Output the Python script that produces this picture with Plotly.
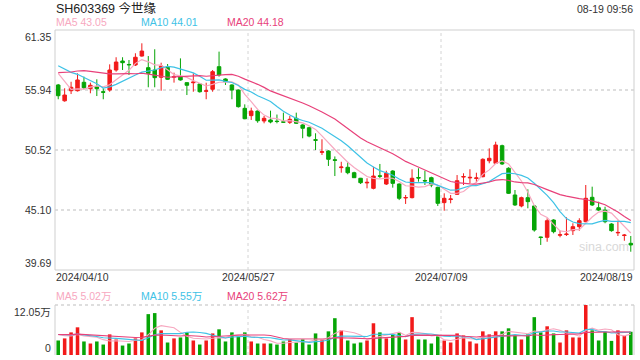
import plotly.graph_objects as go
import pandas as pd
import numpy as np

# ---------------- text ----------------
title_text = "SH603369 今世缘"
time_text = "08-19 09:56"
ma_price_labels = ["MA5 43.05", "MA10 44.01", "MA20 44.18"]
ma_vol_labels = ["MA5 5.02万", "MA10 5.55万", "MA20 5.62万"]
price_tick_labels = ["61.35", "55.94", "50.52", "45.10", "39.69"]
vol_tick_labels = ["12.05万", "0"]
x_tick_labels = ["2024/04/10", "2024/05/27", "2024/07/09", "2024/08/19"]
watermark = "sina.com"

# ---------------- trading days ----------------
holidays = ["2024-05-01", "2024-05-02", "2024-05-03", "2024-06-10"]
dates = [d for d in pd.bdate_range("2024-04-10", "2024-08-19") if d.strftime("%Y-%m-%d") not in holidays]

# ---------------- daily OHLC (yuan) ----------------
opens = [56.39, 54.96, 55.87, 55.87, 56.63, 56.05, 56.23, 55.78, 55.93, 57.74,
         58.55, 58.24, 58.19, 59.00, 57.95, 57.74, 57.08, 57.98, 57.09, 57.14,
         56.60, 56.59, 56.48, 55.82, 56.00, 58.04, 56.93, 56.39, 55.93, 54.28,
         53.62, 54.04, 53.14, 53.23, 53.12, 53.06, 53.02, 53.38, 52.78, 52.53,
         51.45, 50.31, 50.43, 49.64, 48.93, 48.96, 48.47, 47.97, 47.55, 47.06,
         48.19, 47.45, 48.62, 47.45, 46.19, 46.22, 48.04, 47.77, 48.02, 47.15,
         45.77, 46.05, 46.52, 48.08, 48.00, 47.95, 48.11, 49.55, 49.32, 50.91,
         48.87, 46.46, 45.47, 46.22, 45.47, 42.67, 42.64, 44.20, 42.83, 42.89,
         43.24, 43.60, 44.05, 46.25, 45.31, 45.10, 43.84, 43.04, 42.80, 42.10]
highs = [56.48, 56.09, 56.68, 57.44, 57.14, 56.60, 56.90, 56.09, 58.25, 58.89,
         58.89, 58.64, 59.25, 60.15, 59.00, 59.61, 58.40, 58.28, 57.50, 58.79,
         56.60, 57.44, 56.55, 56.59, 57.74, 59.40, 56.99, 56.45, 55.99, 54.64,
         54.34, 54.08, 53.59, 54.07, 53.72, 53.89, 53.59, 53.89, 52.85, 52.62,
         52.03, 51.49, 50.50, 49.94, 49.46, 49.46, 48.56, 48.00, 47.97, 49.01,
         49.26, 48.65, 48.70, 47.50, 46.46, 48.78, 48.87, 48.65, 48.11, 47.21,
         46.61, 46.46, 48.26, 48.42, 48.78, 48.47, 49.77, 50.67, 51.27, 51.00,
         48.96, 46.91, 46.31, 46.97, 45.50, 42.70, 44.36, 44.27, 43.24, 44.45,
         43.91, 44.36, 47.36, 47.21, 45.85, 45.40, 43.91, 44.14, 42.94, 42.76]
lows = [55.10, 54.88, 55.57, 55.80, 55.99, 55.64, 55.39, 55.10, 55.78, 57.59,
        57.74, 57.29, 58.10, 58.94, 56.18, 56.18, 55.87, 56.84, 56.60, 56.78,
        55.48, 55.78, 55.70, 55.10, 55.78, 57.14, 56.39, 55.10, 54.35, 53.30,
        53.23, 52.98, 52.93, 52.93, 52.93, 52.98, 52.87, 52.87, 51.58, 51.67,
        50.52, 50.07, 49.08, 48.17, 48.47, 48.33, 48.00, 47.45, 47.06, 46.97,
        47.97, 47.36, 47.12, 46.00, 45.65, 46.15, 47.66, 47.36, 47.16, 45.47,
        45.04, 45.71, 46.46, 47.36, 47.51, 47.57, 48.05, 49.32, 49.26, 49.17,
        46.55, 45.47, 45.35, 45.26, 43.15, 41.95, 42.24, 43.00, 42.64, 42.76,
        42.85, 43.24, 44.00, 45.47, 45.02, 43.91, 43.15, 42.76, 42.33, 41.34]
closes = [55.42, 55.48, 56.18, 56.84, 56.14, 56.36, 56.05, 55.73, 57.74, 58.46,
          58.40, 58.21, 58.89, 59.45, 57.44, 57.05, 58.10, 56.90, 57.15, 56.84,
          56.36, 56.65, 55.78, 55.86, 57.59, 57.29, 56.69, 55.93, 54.43, 53.34,
          54.04, 53.16, 53.38, 53.05, 53.09, 53.03, 53.29, 52.93, 52.48, 51.78,
          51.40, 50.36, 49.68, 49.59, 48.98, 48.47, 48.02, 47.57, 47.60, 48.17,
          48.15, 48.42, 47.51, 46.16, 46.23, 47.97, 47.99, 47.73, 47.36, 45.71,
          46.16, 46.10, 47.75, 48.12, 48.05, 48.00, 49.68, 49.77, 50.97, 49.26,
          46.61, 45.56, 46.22, 45.86, 43.30, 42.62, 44.14, 43.15, 42.87, 42.93,
          43.60, 44.14, 46.16, 45.56, 45.10, 44.05, 43.24, 43.08, 42.84, 41.95]
# closes of the 19 sessions before the window (only used by the moving averages)
hist_closes = [55.2, 55.5, 55.0, 55.6, 57.5, 58.0, 57.8, 58.4, 58.2, 57.7,
               58.5, 59.2, 58.6, 59.0, 58.8, 59.3, 59.6, 56.6, 56.27]

# ---------------- volume (万手) ----------------
volumes = [3.50, 4.00, 5.45, 6.67, 3.26, 2.77, 3.26, 2.52, 4.97, 3.74,
           2.28, 2.77, 4.00, 5.45, 9.85, 10.10, 5.94, 3.01, 4.00, 4.23,
           5.45, 3.50, 2.52, 3.50, 5.20, 6.19, 3.26, 5.45, 4.48, 5.45,
           3.26, 2.77, 2.77, 2.77, 2.52, 3.26, 3.74, 3.01, 3.74, 2.52,
           5.20, 3.74, 5.70, 8.87, 5.94, 3.50, 2.77, 3.01, 3.50, 7.65,
           5.45, 4.00, 4.97, 5.45, 3.74, 9.12, 3.74, 3.74, 2.77, 4.48,
           3.50, 3.01, 5.20, 4.72, 3.26, 2.77, 5.70, 4.97, 5.70, 5.70,
           6.43, 4.72, 3.74, 4.97, 9.12, 5.45, 6.92, 5.20, 3.01, 5.94,
           4.23, 4.23, 12.05, 5.94, 3.50, 5.60, 3.40, 5.94, 4.60, 5.60]
hist_volumes = [4.8, 5.3, 4.6, 5.1, 4.9, 5.5, 4.7, 5.0, 5.2, 4.6,
                4.9, 5.4, 4.8, 5.0, 4.7, 5.3, 5.6, 4.9, 5.2]

price_min, price_max = 39.69, 61.35
vol_max = 12.05

# ---------------- styling ----------------
RED = "#f21a1a"
GREEN = "#06a506"
MA_COLORS = ["#f7a8c0", "#3ec2e6", "#e8417a"]
FONT = "Liberation Sans, Arial, Noto Sans CJK SC, sans-serif"
TXT = "#333333"

n = len(closes)
idx = list(range(n))


def moving_avg(hist, vals, w):
    full = np.array(hist + vals, dtype=float)
    off = len(hist)
    return [full[off + i - w + 1: off + i + 1].mean() for i in range(len(vals))]


fig = go.Figure()

# price MAs
for w, col in zip([5, 10, 20], MA_COLORS):
    fig.add_trace(go.Scatter(x=idx, y=moving_avg(hist_closes, closes, w), mode="lines",
                             line=dict(color=col, width=1.2), hoverinfo="skip",
                             showlegend=False, xaxis="x", yaxis="y"))

fig.add_trace(go.Candlestick(
    x=idx, open=opens, high=highs, low=lows, close=closes,
    increasing=dict(line=dict(color=RED, width=1), fillcolor=RED),
    decreasing=dict(line=dict(color=GREEN, width=1), fillcolor=GREEN),
    whiskerwidth=0, showlegend=False, hoverinfo="skip", xaxis="x", yaxis="y"))

vol_colors = [RED if c >= o else GREEN for o, c in zip(opens, closes)]
fig.add_trace(go.Bar(x=idx, y=volumes, marker=dict(color=vol_colors, line=dict(width=0)),
                     width=0.55, showlegend=False, hoverinfo="skip", xaxis="x2", yaxis="y2"))
for w, col in zip([5, 10, 20], MA_COLORS):
    fig.add_trace(go.Scatter(x=idx, y=moving_avg(hist_volumes, volumes, w), mode="lines",
                             line=dict(color=col, width=1.1), hoverinfo="skip",
                             showlegend=False, xaxis="x2", yaxis="y2"))

# ---------------- layout geometry ----------------
W, H = 640, 360
ML, MR, MT, MB = 55, 6, 30, 5
plot_h = H - MT - MB
main_bottom_px = 270
vol_top_px = 305


def py(p):
    return (H - MB - p) / plot_h


def px(p):
    return (p - ML) / (W - ML - MR)


fig.update_layout(
    width=W, height=H,
    margin=dict(l=ML, r=MR, t=MT, b=MB),
    paper_bgcolor="white", plot_bgcolor="white",
    boxgap=0.22, bargap=0.4,
    font=dict(family=FONT, size=11, color=TXT),
    xaxis=dict(range=[-0.5, n - 0.5], domain=[0, 1], anchor="y", showgrid=False,
               zeroline=False, showticklabels=False, ticks="", rangeslider=dict(visible=False)),
    xaxis2=dict(range=[-0.5, n - 0.5], domain=[0, 1], anchor="y2", matches="x", showgrid=False,
                zeroline=False, showticklabels=False, ticks=""),
    yaxis=dict(range=[price_min, price_max], domain=[py(main_bottom_px), 1], showgrid=False,
               zeroline=False, showticklabels=False, ticks=""),
    yaxis2=dict(range=[0, vol_max], domain=[0, py(vol_top_px)], showgrid=False,
                zeroline=False, showticklabels=False, ticks=""),
)

shapes = []
GRID = "#d4d4d4"
BORDER = "#cfcfcf"
# main border
shapes.append(dict(type="rect", xref="x domain", yref="y domain", x0=0, x1=1, y0=0, y1=1,
                   line=dict(color=BORDER, width=1), layer="below"))
# price grid
step = (price_max - price_min) / 4
for k in range(1, 4):
    yv = price_min + k * step
    shapes.append(dict(type="line", xref="x domain", yref="y", x0=0, x1=1, y0=yv, y1=yv,
                       line=dict(color=GRID, width=1.5, dash="dot"), layer="below"))
# vertical grid lines at thirds
for xv in [-0.5 + n / 3, -0.5 + 2 * n / 3]:
    shapes.append(dict(type="line", xref="x", yref="y domain", x0=xv, x1=xv, y0=0, y1=1,
                       line=dict(color=GRID, width=1, dash="dot"), layer="below"))
    shapes.append(dict(type="line", xref="x2", yref="y2 domain", x0=xv, x1=xv, y0=0, y1=1,
                       line=dict(color=GRID, width=1, dash="dot"), layer="below"))
# volume panel frame
shapes.append(dict(type="line", xref="x2 domain", yref="y2 domain", x0=0, x1=1, y0=1, y1=1,
                   line=dict(color=GRID, width=1.5, dash="dot"), layer="below"))
for xv in [0, 1]:
    shapes.append(dict(type="line", xref="x2 domain", yref="y2 domain", x0=xv, x1=xv, y0=0, y1=1,
                       line=dict(color=BORDER, width=1), layer="below"))
fig.update_layout(shapes=shapes)

ann = []
ann.append(dict(text=title_text, xref="paper", yref="paper", x=0, y=py(8.5), xanchor="left",
                yanchor="middle", showarrow=False, borderpad=0,
                font=dict(size=12.5, color="#222222")))
ann.append(dict(text=time_text, xref="paper", yref="paper", x=1, y=py(9), xanchor="right",
                yanchor="middle", showarrow=False, borderpad=0, font=dict(size=10.5, color=TXT)))
for lbl, col, xp in zip(ma_price_labels, MA_COLORS, [55, 140, 226]):
    ann.append(dict(text=lbl, xref="paper", yref="paper", x=px(xp), y=py(22), xanchor="left",
                    yanchor="middle", showarrow=False, borderpad=0,
                    font=dict(size=10.5, color=col)))
for lbl, col, xp in zip(ma_vol_labels, MA_COLORS, [55, 140, 226]):
    ann.append(dict(text=lbl, xref="paper", yref="paper", x=px(xp), y=py(296), xanchor="left",
                    yanchor="middle", showarrow=False, borderpad=0,
                    font=dict(size=10.5, color=col)))
# price tick labels
price_levels = [price_max - k * step for k in range(5)]
for k, (lbl, yv) in enumerate(zip(price_tick_labels, price_levels)):
    ya = "top" if k == 0 else ("bottom" if k == 4 else "middle")
    ann.append(dict(text=lbl, xref="paper", yref="y", x=0, y=yv, xanchor="right", yanchor=ya,
                    xshift=-3, showarrow=False, borderpad=0, font=dict(size=10.5, color=TXT)))
# volume tick labels
for lbl, yv, ya in zip(vol_tick_labels, [vol_max, 0], ["top", "bottom"]):
    ann.append(dict(text=lbl, xref="paper", yref="y2", x=0, y=yv, xanchor="right", yanchor=ya,
                    xshift=-3, showarrow=False, borderpad=0, font=dict(size=10.5, color=TXT)))
# date labels
for lbl, xv, xa in zip(x_tick_labels, [-0.5, -0.5 + n / 3, -0.5 + 2 * n / 3, n - 0.5],
                       ["left", "center", "center", "right"]):
    ann.append(dict(text=lbl, xref="x", yref="paper", x=xv, y=py(276.5), xanchor=xa,
                    yanchor="middle", showarrow=False, borderpad=0,
                    font=dict(size=10.5, color=TXT)))
ann.append(dict(text=watermark, xref="paper", yref="paper", x=px(604), y=py(247),
                xanchor="center", yanchor="middle", showarrow=False, borderpad=0,
                font=dict(size=12.5, color="#d9d9d9")))
fig.update_layout(annotations=ann)

fig.write_html("out.html", config={"displayModeBar": False, "staticPlot": True},
               post_script="document.body.style.margin='0';document.body.style.overflow='hidden';")
